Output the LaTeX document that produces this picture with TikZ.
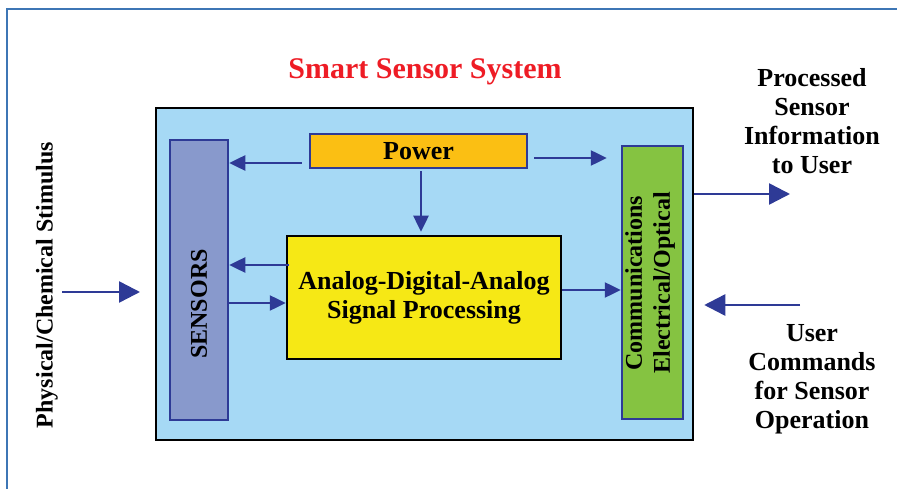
\documentclass[tikz,border=0pt]{standalone}
\usepackage{fontspec}
\setmainfont{Liberation Serif}
\usepackage{tikz}
\usetikzlibrary{positioning,arrows.meta}

\definecolor{framblue}{HTML}{3D76B5}
\definecolor{sysblue}{HTML}{A6D9F5}
\definecolor{sensblue}{HTML}{8899CC}
\definecolor{edgeblue}{HTML}{2E3A96}
\definecolor{powerorange}{HTML}{FBBF13}
\definecolor{adcyellow}{HTML}{F6E815}
\definecolor{commgreen}{HTML}{85C341}
\definecolor{titlered}{HTML}{EE1C25}

\begin{document}
\begin{tikzpicture}[x=1pt,y=-1pt,
	box/.style={draw,line width=2.5pt,inner sep=0pt,font=\bfseries\fontsize{26}{29}\selectfont,align=center},
	sidebox/.style={box,draw=edgeblue,font=\bfseries\fontsize{24}{28}\selectfont},
	lbl/.style={inner sep=0pt,align=center,font=\bfseries\fontsize{26}{29}\selectfont},
	arr/.style={draw=edgeblue,line width=2.5pt,-{Triangle[length=16pt,width=15pt]}},
	arrbig/.style={arr,-{Triangle[length=21pt,width=21pt]}}]
	\useasboundingbox (0,0) rectangle (897,489);
	% outer frame
	\draw[framblue,line width=2.5pt] (7,500) -- (7,9) -- (905,9);
	% boxes
	\node[box,fill=sysblue,minimum width=537pt,minimum height=332pt] (system) at (424.5,274) {};
	\node[sidebox,fill=sensblue,minimum width=58pt,minimum height=280pt] (sensors) at (199,280) {};
	\node[box,draw=edgeblue,fill=powerorange,minimum width=217pt,minimum height=34pt] (power) at (418.5,151) {Power};
	\node[box,fill=adcyellow,minimum width=274pt,minimum height=123pt] (adc) at (424,297.5) {Analog-Digital-Analog\\Signal Processing};
	\node[sidebox,fill=commgreen,minimum width=61pt,minimum height=273pt] (comm) at (652.5,282.5) {};
	% rotated texts
	\node[lbl,rotate=90,font=\bfseries\fontsize{24}{28}\selectfont] (senstxt) at (199,304) {SENSORS};
	\node[lbl,rotate=90,font=\bfseries\fontsize{24}{28}\selectfont] (commtxt) at (650,283) {Communications\\Electrical/Optical};
	\node[lbl,rotate=90,font=\bfseries\fontsize{24}{28}\selectfont] (stim) at (47,285) {Physical/Chemical Stimulus};
	% labels
	\node[lbl,text=titlered,font=\bfseries\fontsize{30}{34}\selectfont] (title) at (425,72) {Smart Sensor System};
	\node[lbl] (info) at (812,121) {Processed\\Sensor\\Information\\to User};
	\node[lbl] (cmds) at (812,379) {User\\Commands\\for Sensor\\Operation};
	\coordinate (stimin) at (140,292);
	\coordinate (outend) at (790,194);
	\coordinate (cmdin) at (800,305);
	% arrows
	\draw[arr,shorten <=7pt] ([yshift=-12pt]power.west) -- ([yshift=-12pt]power.west -| sensors.east);
	\draw[arr,shorten <=6pt,shorten >=14pt] ([yshift=-7pt]power.east) -- ([yshift=-7pt]power.east -| comm.west);
	\draw[arr,shorten <=2pt,shorten >=3pt] ([xshift=2.5pt]power.south) -- ([xshift=2.5pt]power.south |- adc.north);
	\draw[arr,shorten <=-3pt] ([yshift=32.5pt]adc.west) -- ([yshift=32.5pt]adc.west -| sensors.east);
	\draw[arr] ([yshift=-5.5pt]sensors.east |- adc.west) -- ([yshift=-5.5pt]adc.west);
	\draw[arr] ([yshift=7.5pt]adc.east) -- ([yshift=7.5pt]adc.east -| comm.west);
	\draw[arrbig] (outend -| system.east) -- (outend);
	\draw[arrbig,shorten >=10pt] (cmdin) -- (cmdin -| system.east);
	\draw[arrbig,shorten <=4pt] (stim.south |- stimin) -- (stimin);
\end{tikzpicture}
\end{document}
